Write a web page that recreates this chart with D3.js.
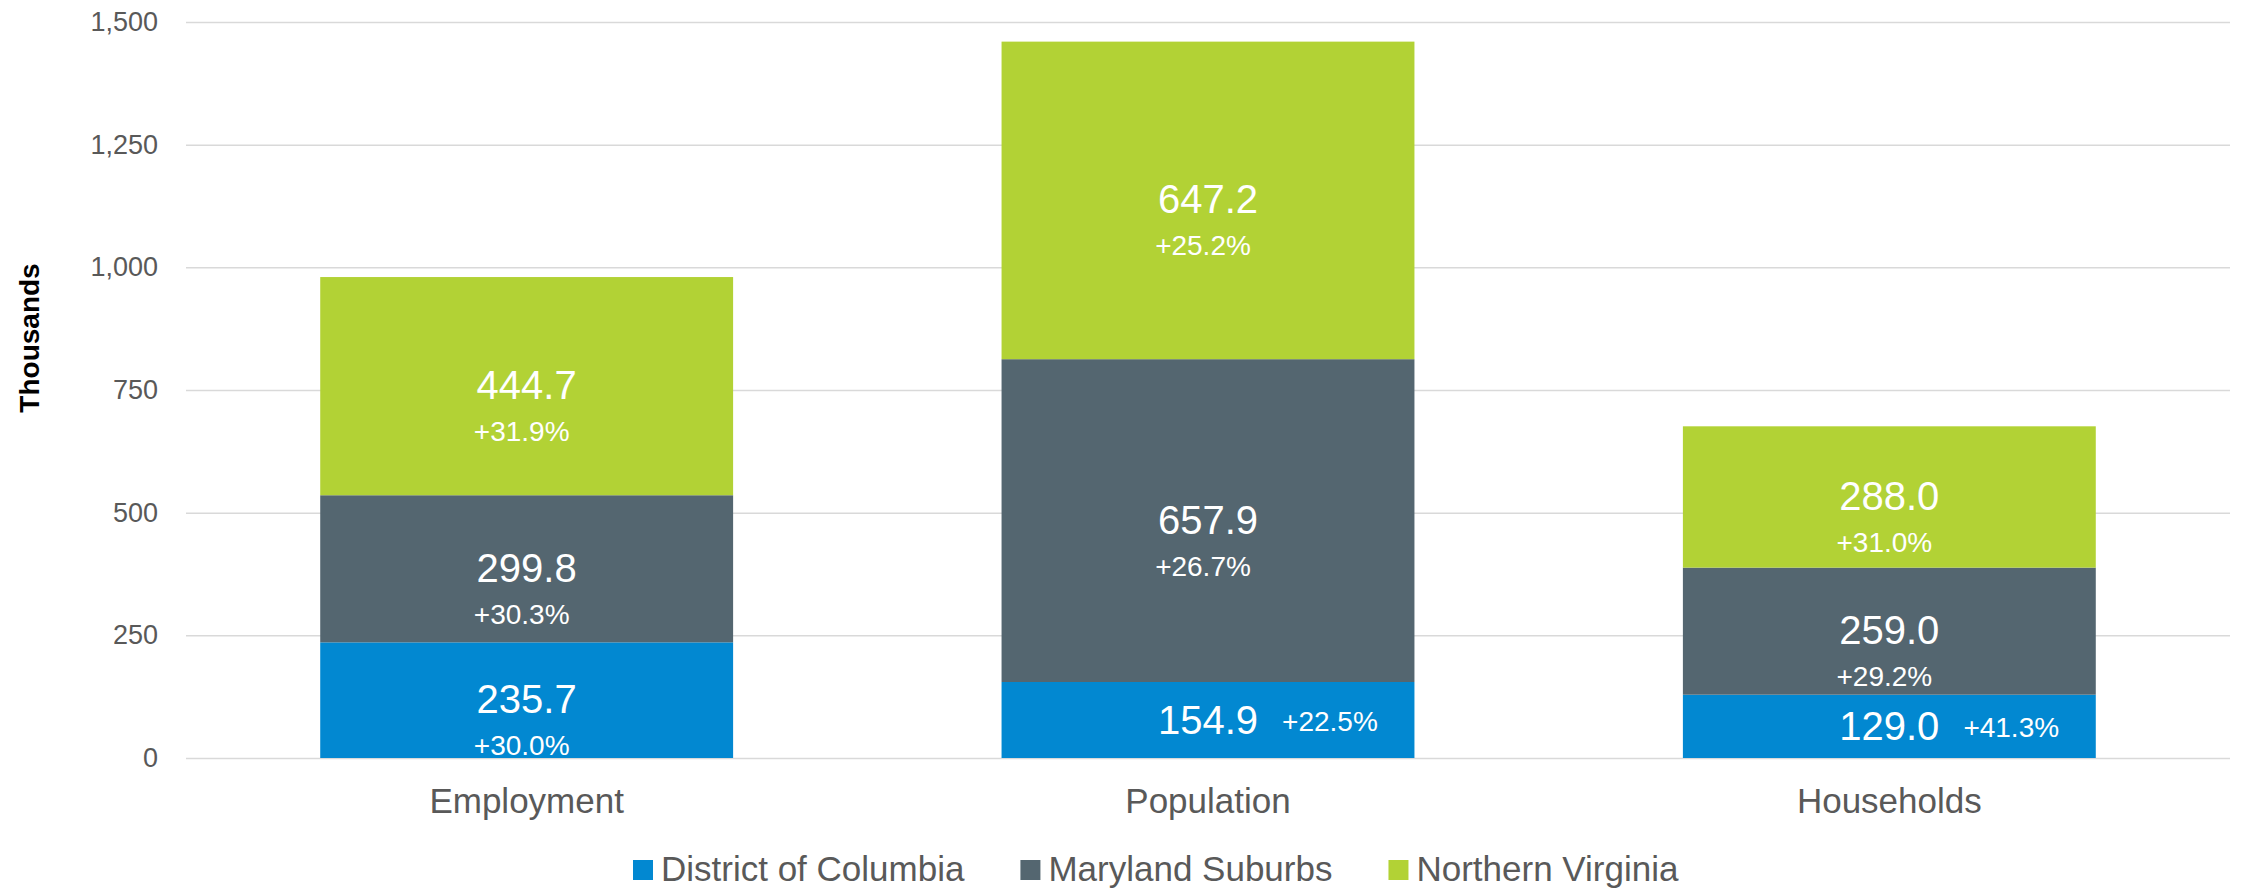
<!DOCTYPE html>
<html>
<head>
<meta charset="utf-8">
<script src="https://cdn.jsdelivr.net/npm/d3@7"></script>
<style>
  body { margin: 0; background: #fff; }
  text { font-family: "Liberation Sans", Arial, sans-serif; }
</style>
</head>
<body>
<svg id="chart" width="2242" height="893"></svg>
<script>
// data (thousands)
var categories = ["Employment", "Population", "Households"];
var seriesNames = ["District of Columbia", "Maryland Suburbs", "Northern Virginia"];
var dcValues = [235.7, 154.9, 129.0];
var mdValues = [299.8, 657.9, 259.0];
var nvValues = [444.7, 647.2, 288.0];
var dcGrowth = ["+30.0%", "+22.5%", "+41.3%"];
var mdGrowth = ["+30.3%", "+26.7%", "+29.2%"];
var nvGrowth = ["+31.9%", "+25.2%", "+31.0%"];
var yTicks = [0, 250, 500, 750, 1000, 1250, 1500];
var colors = ["#0288d1", "#546670", "#b2d235"];

var margin = {top: 22, right: 12, bottom: 135, left: 186},
    width = 2242 - margin.left - margin.right,
    height = 893 - margin.top - margin.bottom;

var keys = ["dc", "md", "nv"];
var growth = {dc: dcGrowth, md: mdGrowth, nv: nvGrowth};
var rows = categories.map(function(c, i) {
  return {cat: c, dc: dcValues[i], md: mdValues[i], nv: nvValues[i], idx: i};
});
var stacked = d3.stack().keys(keys)(rows);

var x = d3.scaleBand().domain(categories).range([0, width]).paddingInner(0.394).paddingOuter(0.197);
var y = d3.scaleLinear().domain([0, 1500]).range([height, 0]);
var color = d3.scaleOrdinal().domain(keys).range(colors);

var svg = d3.select("#chart").append("g")
    .attr("transform", "translate(" + margin.left + "," + margin.top + ")");

// gridlines
svg.append("g")
    .call(d3.axisLeft(y).tickValues(yTicks).tickSize(-width).tickFormat(""))
    .call(function(g) { g.select(".domain").remove(); })
    .selectAll("line").attr("stroke", "#d9d9d9").attr("stroke-width", 1.5);

// y tick labels
svg.append("g")
    .call(d3.axisLeft(y).tickValues(yTicks).tickSize(0).tickPadding(28).tickFormat(d3.format(",")))
    .call(function(g) { g.select(".domain").remove(); })
    .selectAll("text")
    .attr("fill", "#595959")
    .style("font-size", "27px");

svg.append("text")
    .attr("transform", "translate(" + (39 - margin.left) + "," + (338 - margin.top) + ") rotate(-90)")
    .attr("text-anchor", "middle")
    .style("font-size", "28px")
    .style("font-weight", "bold")
    .attr("fill", "#000")
    .text("Thousands");

// bars
var layers = svg.selectAll(".layer").data(stacked).enter().append("g")
    .attr("class", "layer")
    .attr("fill", function(d) { return color(d.key); });

layers.selectAll("rect").data(function(d) { return d; }).enter().append("rect")
    .attr("x", function(d) { return x(d.data.cat); })
    .attr("y", function(d) { return y(d[1]); })
    .attr("width", x.bandwidth())
    .attr("height", function(d) { return y(d[0]) - y(d[1]); });

// labels
stacked.forEach(function(layer) {
  layer.forEach(function(d) {
    var cx = x(d.data.cat) + x.bandwidth() / 2,
        cy = (y(d[0]) + y(d[1])) / 2,
        segH = y(d[0]) - y(d[1]),
        val = d.data[layer.key],
        pct = growth[layer.key][d.data.idx];
    var vt = svg.append("text")
        .attr("x", cx)
        .attr("text-anchor", "middle")
        .attr("fill", "#fff")
        .style("font-size", "40px")
        .text(d3.format(".1f")(val));
    var pt = svg.append("text")
        .attr("fill", "#fff")
        .style("font-size", "28px")
        .text(pct);
    if (segH < 100) {
      // short segment: value and change side by side
      var w = vt.node().getComputedTextLength();
      vt.attr("y", cy + 14);
      pt.attr("x", cx + w / 2 + 24).attr("y", cy + 11).attr("text-anchor", "start");
    } else {
      vt.attr("y", cy + 13);
      pt.attr("x", cx - 5).attr("y", cy + 55).attr("text-anchor", "middle");
    }
  });
});

// x category labels
svg.append("g")
    .attr("transform", "translate(0," + height + ")")
    .call(d3.axisBottom(x).tickSize(0).tickPadding(30))
    .call(function(g) { g.select(".domain").remove(); })
    .selectAll("text")
    .attr("fill", "#595959")
    .style("font-size", "35px");

// legend
var legend = d3.select("#chart").append("g").attr("transform", "translate(633,860)");
var lx = 0;
seriesNames.forEach(function(name, i) {
  var item = legend.append("g").attr("transform", "translate(" + lx + ",0)");
  item.append("rect").attr("width", 20).attr("height", 20).attr("fill", colors[i]);
  var t = item.append("text")
      .attr("x", 28).attr("y", 21)
      .attr("fill", "#595959")
      .style("font-size", "35px")
      .text(name);
  lx += 28 + t.node().getComputedTextLength() + 56;
});
</script>
</body>
</html>
